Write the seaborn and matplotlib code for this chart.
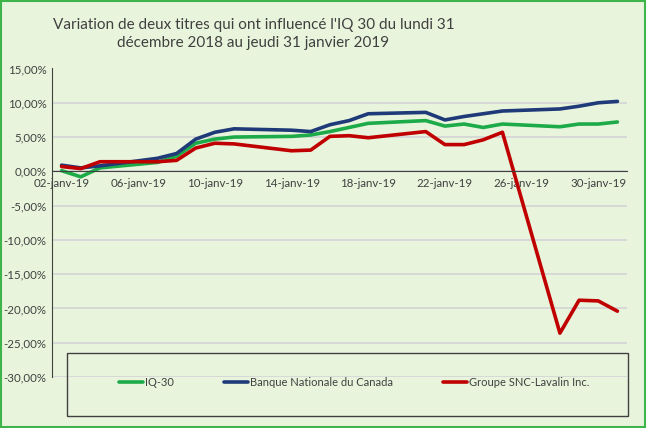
import pandas as pd
import seaborn as sns
import matplotlib.pyplot as plt
import matplotlib.dates as mdates
from matplotlib.ticker import FuncFormatter, FixedLocator
from matplotlib.patches import Rectangle

# jours de bourse de janvier 2019
days = [2, 3, 4, 7, 8, 9, 10, 11, 14, 15, 16, 17, 18, 21, 22, 23, 24, 25, 28, 29, 30, 31]
iq30 = [0.1, -0.8, 0.5, 1.3, 2.2, 4.1, 4.7, 5.0, 5.1, 5.3, 5.8, 6.4, 7.0, 7.4, 6.6, 6.9, 6.4, 6.9, 6.5, 6.9, 6.9, 7.2]
bnc = [0.9, 0.5, 0.8, 1.9, 2.6, 4.7, 5.7, 6.2, 6.0, 5.8, 6.8, 7.4, 8.4, 8.6, 7.5, 8.0, 8.4, 8.8, 9.1, 9.5, 10.0, 10.2]
snc = [0.7, 0.4, 1.4, 1.4, 1.6, 3.4, 4.1, 4.0, 3.0, 3.1, 5.1, 5.2, 4.9, 5.8, 3.9, 3.9, 4.6, 5.7, -23.6, -18.8, -18.9, -20.4]

names = ['IQ-30', 'Banque Nationale du Canada', 'Groupe SNC-Lavalin Inc.']
colors = ['#1DAA48', '#1F3A78', '#C00000']
tick_days = [2, 6, 10, 14, 18, 22, 26, 30]

dates = pd.to_datetime([f'2019-01-{d:02d}' for d in days])
df = pd.DataFrame({'date': dates, names[0]: iq30, names[1]: bnc, names[2]: snc})
df = df.melt(id_vars='date', var_name='titre', value_name='variation')

sns.set_style('white')
plt.rcParams['font.family'] = ['Lato', 'DejaVu Sans']

bg = '#E8F5DC'
txt = '#404040'

fig = plt.figure(figsize=(6.5, 4.28), dpi=100, facecolor='white')
fig.patches.append(Rectangle((1 / 650, 1 / 428), 644 / 650, 426 / 428, transform=fig.transFigure,
                             facecolor=bg, edgecolor='#3DB54A', lw=1.5, zorder=-1))
ax = fig.add_axes([52 / 650, 51 / 428, 575 / 650, 308.5 / 428])
ax.set_facecolor('none')

sns.lineplot(data=df, x='date', y='variation', hue='titre', hue_order=names,
             palette=dict(zip(names, colors)), lw=2.6, ax=ax)

ax.set_ylim(-30, 15)
ax.set_yticks(range(-30, 16, 5))
ax.yaxis.set_major_formatter(FuncFormatter(lambda v, p: f'{v:.2f}%'.replace('.', ',')))
ax.grid(axis='y', color='#D6D6D6', lw=1.3)
ax.set_axisbelow(True)

ax.set_xlim(pd.Timestamp('2019-01-01 12:00'), pd.Timestamp('2019-01-31 12:00'))
major = [mdates.date2num(pd.Timestamp(f'2019-01-{d:02d}')) for d in tick_days]
minor = [m - 0.5 for m in major]
ax.xaxis.set_major_locator(FixedLocator(major))
ax.xaxis.set_major_formatter(FuncFormatter(lambda v, p: mdates.num2date(v).strftime('%d') + '-janv-19'))
ax.xaxis.set_minor_locator(FixedLocator(minor))

ax.tick_params(axis='x', which='major', length=0, pad=5, labelsize=8.3, labelcolor=txt)
ax.tick_params(axis='x', which='minor', length=4, width=1, color=txt, direction='out')
ax.tick_params(axis='y', length=0, pad=4, labelsize=8.3, labelcolor=txt)

for s in ['top', 'right']:
    ax.spines[s].set_visible(False)
ax.spines['bottom'].set_position(('data', 0))
ax.spines['bottom'].set_color(txt)
ax.spines['left'].set_color(txt)
ax.set_xlabel('')
ax.set_ylabel('')

handles, labels = ax.get_legend_handles_labels()
leg = ax.legend(handles, labels, ncol=3, frameon=False, loc='center',
                bbox_to_anchor=(0.525, -0.019), fontsize=8, handlelength=2.2,
                handletextpad=0.15, columnspacing=4.5)
for t in leg.get_texts():
    t.set_color(txt)
fig.patches.append(Rectangle((67 / 650, 12 / 428), 561 / 650, 63 / 428, transform=fig.transFigure,
                             facecolor='none', edgecolor=txt, lw=1))

fig.text(0.39, 1 - 34 / 428,
         "Variation de deux titres qui ont influencé l'IQ 30 du lundi 31\ndécembre 2018 au jeudi 31 janvier 2019",
         ha='center', va='center', fontsize=11, color=txt, linespacing=1.45)

fig.savefig('out.png', dpi=100)
